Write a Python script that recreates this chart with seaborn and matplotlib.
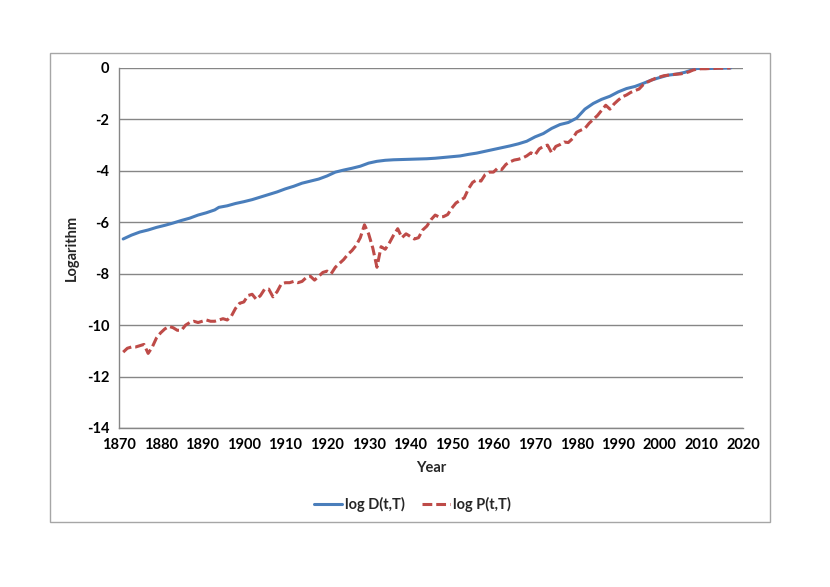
import pandas as pd
import matplotlib.pyplot as plt
import seaborn as sns
from matplotlib.patches import Rectangle

# values
d_years = [1871, 1873, 1875, 1877, 1879, 1881, 1883, 1885, 1887, 1889, 1891, 1893, 1894,
           1896, 1898, 1900, 1902, 1904, 1906, 1908, 1910, 1912, 1914, 1916, 1918, 1920,
           1922, 1924, 1926, 1928, 1930, 1932, 1934, 1936, 1938, 1940, 1942, 1944, 1946,
           1948, 1950, 1952, 1954, 1956, 1958, 1960, 1962, 1964, 1966, 1968, 1970, 1972,
           1974, 1976, 1978, 1980, 1982, 1984, 1986, 1988, 1990, 1992, 1994, 1996, 1998,
           2000, 2002, 2004, 2006, 2008, 2009, 2010, 2012, 2014, 2017]
log_d = [-6.65, -6.5, -6.38, -6.3, -6.2, -6.12, -6.03, -5.93, -5.84, -5.72, -5.63, -5.52, -5.42,
         -5.36, -5.27, -5.2, -5.12, -5.02, -4.92, -4.82, -4.7, -4.6, -4.48, -4.4, -4.32, -4.2,
         -4.05, -3.97, -3.9, -3.82, -3.7, -3.63, -3.59, -3.57, -3.56, -3.55, -3.54, -3.53, -3.51,
         -3.48, -3.45, -3.42, -3.36, -3.31, -3.24, -3.17, -3.1, -3.03, -2.95, -2.85, -2.68, -2.55,
         -2.35, -2.2, -2.12, -1.95, -1.6, -1.38, -1.22, -1.1, -0.93, -0.8, -0.72, -0.6, -0.47,
         -0.37, -0.28, -0.24, -0.17, -0.06, -0.02, -0.02, -0.02, -0.01, 0.0]

p_years = list(range(1871, 2018))
log_p = [-11.05, -10.9, -10.85, -10.85, -10.8, -10.75, -11.1, -10.85, -10.5, -10.3,
         -10.15, -10.05, -10.1, -10.2, -10.2, -10.0, -9.9, -9.85, -9.9, -9.85,
         -9.8, -9.85, -9.85, -9.8, -9.75, -9.8, -9.65, -9.35, -9.15, -9.1,
         -8.85, -8.8, -9.0, -8.85, -8.6, -8.6, -8.9, -8.7, -8.4, -8.35,
         -8.35, -8.3, -8.35, -8.3, -8.15, -8.1, -8.25, -8.1, -7.95, -7.9,
         -8.0, -7.75, -7.6, -7.45, -7.25, -7.1, -6.9, -6.6, -6.1, -6.45,
         -7.0, -7.75, -6.95, -7.05, -6.8, -6.5, -6.25, -6.6, -6.45, -6.55,
         -6.65, -6.6, -6.3, -6.15, -5.9, -5.72, -5.8, -5.78, -5.7, -5.45,
         -5.25, -5.15, -5.05, -4.7, -4.45, -4.35, -4.4, -4.15, -4.05, -4.05,
         -3.9, -3.95, -3.75, -3.65, -3.58, -3.55, -3.5, -3.42, -3.3, -3.38,
         -3.15, -3.05, -3.0, -3.3, -3.05, -2.98, -2.88, -2.9, -2.75, -2.5,
         -2.42, -2.35, -2.15, -2.0, -1.85, -1.65, -1.45, -1.6, -1.4, -1.25,
         -1.12, -1.05, -0.95, -0.88, -0.82, -0.65, -0.55, -0.47, -0.4, -0.35,
         -0.3, -0.28, -0.26, -0.24, -0.23, -0.2, -0.15, -0.08, -0.04, -0.03,
         -0.03, -0.02, -0.02, -0.01, -0.01, 0.0, 0.0]

x_ticks = list(range(1870, 2021, 10))
y_ticks = list(range(-14, 1, 2))
series_names = ['log D(t,T)', 'log P(t,T)']

df = pd.concat([
    pd.DataFrame({'Year': d_years, 'value': log_d, 'series': series_names[0]}),
    pd.DataFrame({'Year': p_years, 'value': log_p, 'series': series_names[1]}),
])

sns.set_style('white')
plt.rcParams['font.family'] = ['Lato', 'DejaVu Sans']
plt.rcParams['font.weight'] = 'bold'
plt.rcParams['axes.unicode_minus'] = False

fig = plt.figure(figsize=(8.3, 5.87), dpi=100)
ax = fig.add_axes([0.1434, 0.2709, 0.7518, 0.6133])

palette = {series_names[0]: '#4A7EBB', series_names[1]: '#BE4B48'}
dashes = {series_names[0]: '', series_names[1]: (3.2, 1.3)}
sns.lineplot(data=df, x='Year', y='value', hue='series', style='series',
             palette=palette, dashes=dashes, linewidth=2.2, estimator=None,
             ax=ax, legend=True)

ax.set_xlim(1870, 2020)
ax.set_ylim(-14, 0)
ax.set_xticks(x_ticks)
ax.set_yticks(y_ticks)
ax.set_xticklabels([str(t) for t in x_ticks], fontsize=10.5, fontweight='bold')
ax.set_yticklabels([str(t) for t in y_ticks], fontsize=10.5, fontweight='bold')
ax.grid(axis='y', color='#868686', linewidth=1)
ax.set_axisbelow(True)
for side in ['top', 'right']:
    ax.spines[side].set_visible(False)
for side in ['left', 'bottom']:
    ax.spines[side].set_color('#868686')
    ax.spines[side].set_linewidth(1)
ax.tick_params(axis='both', direction='out', length=4, width=1, color='#868686',
               pad=3, labelcolor='black')
ax.set_xlabel('Year', fontsize=10.5, fontweight='bold', labelpad=7)
ax.set_ylabel('Logarithm', fontsize=10.5, fontweight='bold', labelpad=6)

handles, labels = ax.get_legend_handles_labels()
ax.get_legend().remove()
fig.legend(handles, labels, loc='center', bbox_to_anchor=(0.497, 0.14), ncol=2,
           frameon=False, fontsize=10.5, handlelength=1.9, columnspacing=1.2,
           handletextpad=0.2)

# chart area border
fig.add_artist(Rectangle((50 / 830, 1 - 522 / 587), 720 / 830, 469 / 587,
                         transform=fig.transFigure, fill=False,
                         edgecolor='#A6A6A6', linewidth=1))

plt.savefig('out.png', dpi=100)
